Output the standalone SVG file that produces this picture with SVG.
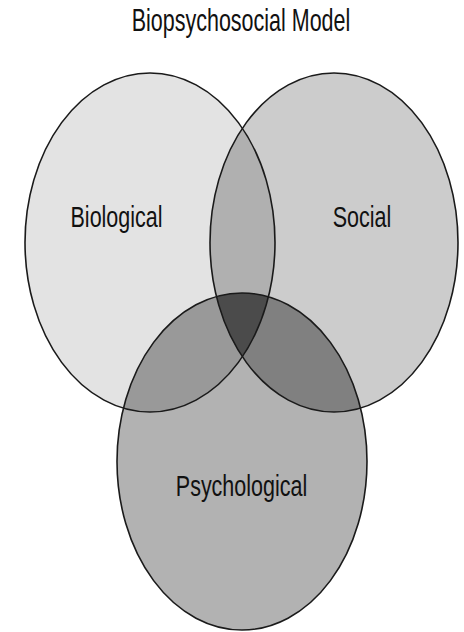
<svg xmlns="http://www.w3.org/2000/svg" width="464" height="632" viewBox="0 0 464 632">
  <style>
    .lbl { font-family: "Liberation Sans", Arial, sans-serif; font-size: 21.5px; fill: #111; text-anchor: middle; }
    .outline { fill: none; stroke: #1a1a1a; stroke-width: 1.6; }
  </style>
  <defs>
    <clipPath id="clipL"><ellipse cx="150" cy="242.5" rx="125" ry="169.5"/></clipPath>
    <clipPath id="clipR"><ellipse cx="334" cy="242.5" rx="124" ry="169.5"/></clipPath>
    <clipPath id="clipLR" clip-path="url(#clipL)"><ellipse cx="334" cy="242.5" rx="124" ry="169.5"/></clipPath>
  </defs>
  <rect width="464" height="632" fill="#ffffff"/>
  <text class="lbl" transform="translate(241,31) scale(1,1.45)">Biopsychosocial Model</text>

  <g id="biological">
    <ellipse cx="150" cy="242.5" rx="125" ry="169.5" fill="#e3e3e3"/>
  </g>
  <g id="social">
    <ellipse cx="334" cy="242.5" rx="124" ry="169.5" fill="#cccccc"/>
  </g>
  <g id="psychological">
    <ellipse cx="242" cy="461.5" rx="125" ry="168.5" fill="#b2b2b2"/>
  </g>
  <g id="overlaps">
    <ellipse cx="334" cy="242.5" rx="124" ry="169.5" fill="#b0b0b0" clip-path="url(#clipL)"/>
    <ellipse cx="242" cy="461.5" rx="125" ry="168.5" fill="#999999" clip-path="url(#clipL)"/>
    <ellipse cx="242" cy="461.5" rx="125" ry="168.5" fill="#808080" clip-path="url(#clipR)"/>
    <ellipse cx="242" cy="461.5" rx="125" ry="168.5" fill="#4b4b4b" clip-path="url(#clipLR)"/>
  </g>
  <g id="outlines">
    <ellipse class="outline" cx="150" cy="242.5" rx="125" ry="169.5"/>
    <ellipse class="outline" cx="334" cy="242.5" rx="124" ry="169.5"/>
    <ellipse class="outline" cx="242" cy="461.5" rx="125" ry="168.5"/>
  </g>
  <g id="labels">
    <text class="lbl" transform="translate(116.5,227) scale(1,1.4)">Biological</text>
    <text class="lbl" transform="translate(362,227) scale(1,1.4)">Social</text>
    <text class="lbl" transform="translate(241.5,496) scale(1,1.4)">Psychological</text>
  </g>
</svg>
